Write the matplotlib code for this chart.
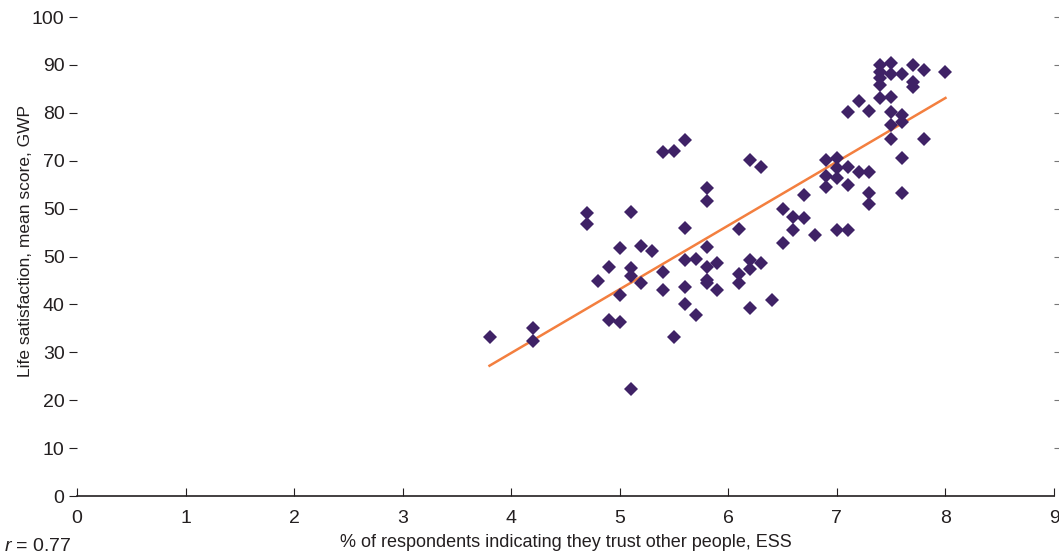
import matplotlib.pyplot as plt

# trust (% ESS) vs life satisfaction (GWP)
trust = [3.8, 4.2, 4.2, 4.7, 4.7, 4.8, 4.9, 4.9, 5.0, 5.0, 5.0, 5.1, 5.1, 5.1, 5.1,
         5.2, 5.2, 5.3, 5.4, 5.5, 5.6, 5.4, 5.4, 5.5, 5.6, 5.6, 5.6, 5.6, 5.7, 5.7,
         5.8, 5.8, 5.8, 5.8, 5.8, 5.8, 5.9, 5.9, 6.1, 6.1, 6.1, 6.2, 6.3, 6.2, 6.2,
         6.3, 6.2, 6.4, 6.5, 6.6, 6.7, 6.6, 6.8, 6.5, 6.7, 6.9, 7.0, 7.0, 7.1, 7.2,
         7.3, 6.9, 7.0, 6.9, 7.1, 7.3, 7.3, 7.0, 7.1, 7.6, 7.6, 7.8, 7.5, 7.5, 7.6,
         7.6, 7.5, 7.5, 7.4, 7.3, 7.2, 7.1, 7.4, 7.4, 7.4, 7.4, 7.5, 7.5, 7.6, 7.7,
         7.8, 7.7, 7.7, 8.0]
satisf = [33.3, 35.0, 32.4, 59.0, 56.8, 44.9, 47.9, 36.7, 51.8, 42.0, 36.4, 59.2, 47.5, 46.0, 22.3,
          52.2, 44.4, 51.1, 71.9, 72.0, 74.3, 46.8, 43.1, 33.3, 55.9, 49.3, 43.7, 40.0, 49.4, 37.8,
          64.2, 61.6, 52.0, 47.9, 45.1, 44.5, 48.7, 43.1, 55.7, 46.3, 44.4, 70.1, 68.6, 49.3, 47.3,
          48.7, 39.3, 40.9, 59.9, 58.3, 58.0, 55.5, 54.5, 52.8, 62.8, 70.1, 70.5, 68.4, 68.6, 67.7,
          67.7, 66.8, 66.3, 64.6, 64.9, 63.2, 61.0, 55.5, 55.5, 70.5, 63.3, 74.5, 74.5, 77.5, 78.1,
          79.5, 80.2, 83.4, 83.0, 80.4, 82.5, 80.2, 85.8, 87.2, 88.6, 90.0, 90.3, 88.2, 88.2, 90.0,
          88.9, 86.5, 85.4, 88.6]

fit_x = [3.8, 8.0]
fit_y = [27.2, 83.1]

xticks = [0, 1, 2, 3, 4, 5, 6, 7, 8, 9]
yticks = [0, 10, 20, 30, 40, 50, 60, 70, 80, 90, 100]
ytick_labels = ['0', '10', '20', '30', '40', '50', '50', '70', '80', '90', '100']

plt.rcParams['font.family'] = ['Liberation Sans', 'DejaVu Sans']
plt.rcParams['mathtext.fontset'] = 'custom'
plt.rcParams['mathtext.it'] = 'Liberation Sans:italic'
plt.rcParams['mathtext.rm'] = 'Liberation Sans'
txt = '#231f20'

fig = plt.figure(figsize=(10.59, 5.58), dpi=100)
ax = fig.add_axes([0.0727, 0.1111, 0.9226, 0.8584])

ax.plot(trust, satisf, 'D', color='#3f2266', markersize=7.6, markeredgewidth=0, zorder=3)
ax.plot(fit_x, fit_y, color='#f37f3f', linewidth=1.8, zorder=2)

ax.set_xlim(0, 9)
ax.set_ylim(0, 100)
ax.set_xticks(xticks)
ax.set_yticks(yticks)
ax.set_yticklabels(ytick_labels)

for s in ['top', 'left', 'right']:
    ax.spines[s].set_visible(False)
ax.spines['bottom'].set_color(txt)
ax.spines['bottom'].set_linewidth(1.2)

ax.tick_params(axis='x', direction='in', length=6, color=txt, labelsize=14, labelcolor=txt, pad=10)
ax.tick_params(axis='y', direction='out', length=6, color=txt, labelsize=14, labelcolor=txt, pad=3)

# small grey marks on the right edge
ax2 = ax.twinx()
ax2.set_ylim(0, 100)
ax2.set_yticks(yticks[1:])
ax2.tick_params(axis='y', direction='out', length=4, color='#777777', labelright=False)
for s in ['top', 'left', 'right', 'bottom']:
    ax2.spines[s].set_visible(False)

ax.set_xlabel('% of respondents indicating they trust other people, ESS', fontsize=13, color=txt, labelpad=5)
ax.set_ylabel('Life satisfaction, mean score, GWP', fontsize=12.5, color=txt)
ax.yaxis.set_label_coords(-0.045, 0.532)

fig.text(0.004, 0.0215, r'$r$ = 0.77', fontsize=14, color=txt, va='center')

fig.savefig('out.png', dpi=100)
